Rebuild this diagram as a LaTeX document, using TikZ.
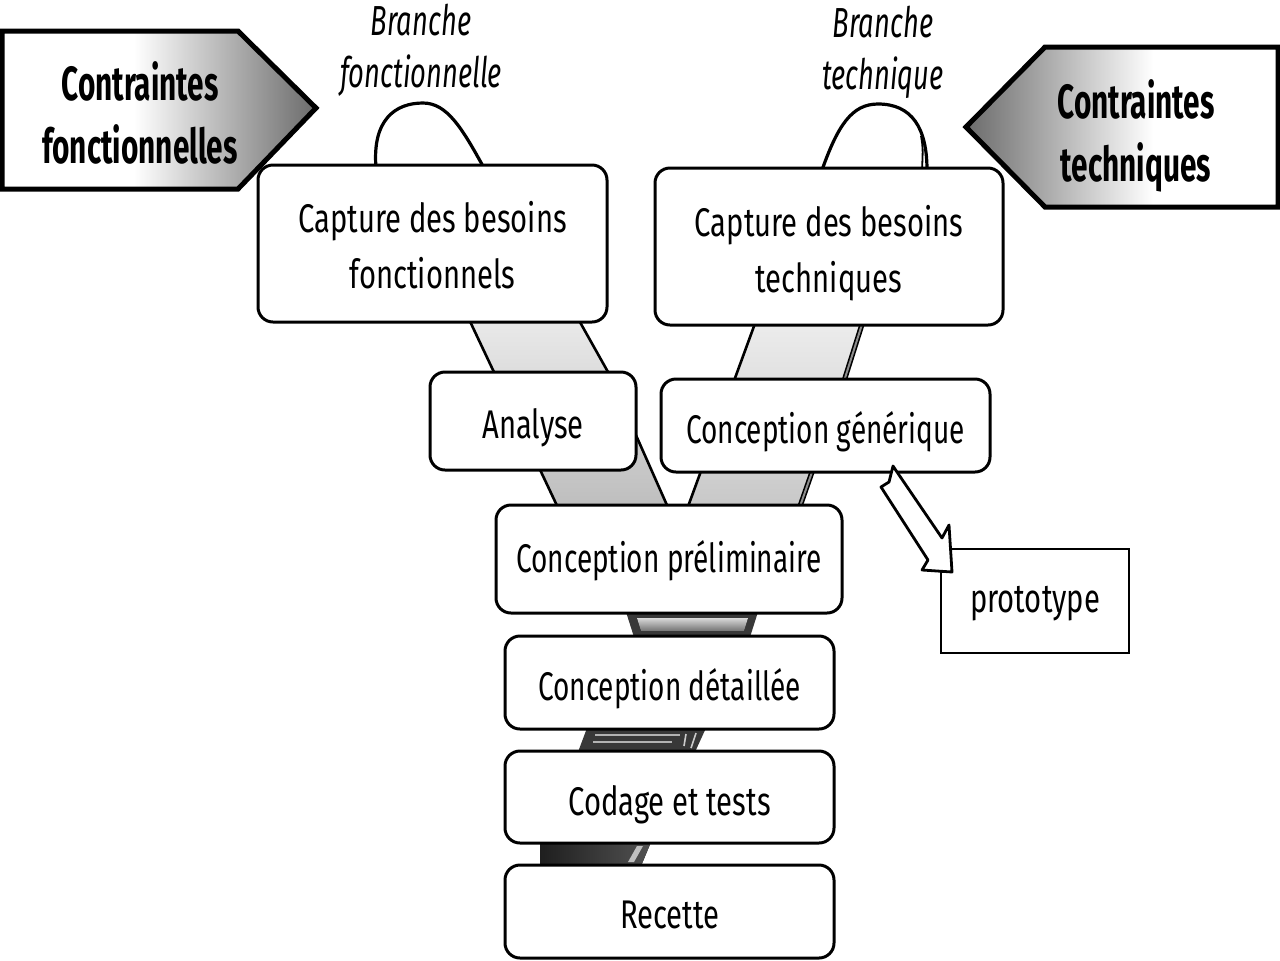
\documentclass[tikz,border=0pt]{standalone}
\usepackage{fontspec}
\setmainfont{Fira Sans}
\usepackage{graphicx}
\usetikzlibrary{calc}
\newcommand{\hsq}[2]{\scalebox{#1}[1]{\begin{tabular}{@{}c@{}}#2\end{tabular}}}
\newcommand{\hsl}[3]{\raisebox{#2}[\height][\depth]{\hsq{#1}{#3}}}
\pgfdeclarehorizontalshading{contrL}{100bp}{color(0bp)=(white); color(25bp)=(white); color(46bp)=(white); color(75bp)=(black!58); color(100bp)=(black!58)}
\pgfdeclarehorizontalshading{contrR}{100bp}{color(0bp)=(black!58); color(25bp)=(black!58); color(55bp)=(white); color(75bp)=(white); color(100bp)=(white)}
\begin{document}
\begin{tikzpicture}[x=0.5pt, y=-0.5pt,
  rbox/.style={draw, line width=1.5pt, rounded corners=7.5pt, fill=white, inner sep=0pt, font=\fontsize{20}{28}\selectfont},
  pbox/.style={draw, line width=1.2pt, fill=white, inner sep=0pt, font=\fontsize{20}{28}\selectfont},
  btext/.style={inner sep=0pt, font=\fontsize{20}{28}\selectfont},
  ctext/.style={inner sep=0pt, font=\fontsize{24}{31.5}\selectfont\bfseries},
  blabel/.style={inner sep=0pt, font=\fontsize{21}{26}\selectfont\itshape},
  arch/.style={draw, line width=1.6pt, fill=white},
  contr/.style={draw, line width=2.5pt, line join=miter},
  hollow/.style={draw, line width=1.4pt, fill=white, line join=round},
  bandL/.style={draw, line width=1.3pt, top color=black!8, bottom color=black!26},
  bandR/.style={draw, line width=1.3pt, top color=black!7, bottom color=black!22}]
\useasboundingbox (0,0) rectangle (1280,960);

% bands of the Y
\path[bandL] (467,315) -- (576,315) -- (608,372) -- (670,512) -- (560,512) -- cycle;
\path[bandR] (757,318) -- (864,318) -- (845,378) -- (798,512) -- (686,512) -- cycle;
\draw[line width=0.8pt, double=black!45, double distance=1pt] (864,318) -- (845,378) -- (798,512);

% trunk bands
\fill[black!78] (626,612) -- (758,612) -- (750,637) -- (634,637) -- cycle;
\fill[top color=black!15, bottom color=black!55] (637,618) -- (748,618) -- (744,631) -- (641,631) -- cycle;
\fill[black!78] (587,728) -- (706,728) -- (695,752) -- (578,752) -- cycle;
\draw[black!30, line width=1pt] (595,735) -- (680,735) (593,742) -- (672,742);
\draw[black!20, line width=0.8pt] (686,734) -- (684,746) (696,733) -- (691,748);
\fill[left color=black!88, right color=black!68] (540,842) -- (651,842) -- (641,866) -- (540,866) -- cycle;
\fill[black!25] (637,846) -- (643,846) -- (634,862) -- (628,862) -- cycle;

% arches
\draw[arch] (376,168) .. controls (372,120) and (395,103) .. (423,103) .. controls (447,103) and (462,128) .. (484,168);
\draw[arch] (822,170) .. controls (838,125) and (852,104) .. (878,104) .. controls (912,104) and (927,128) .. (927,170);
\draw[line width=0.9pt] (921,136) .. controls (923,148) .. (922,170);

% boxes
\node[rbox, minimum width=174.5pt, minimum height=78.5pt] (capF) at (432.5,243.5) {};
\node[btext] (capFt) at (432.5,249) {\hsq{0.73}{Capture des besoins\\fonctionnels}};
\node[rbox, minimum width=174pt, minimum height=78.5pt] (capT) at (829,246.5) {};
\node[btext] (capTt) at (829,253) {\hsq{0.73}{Capture des besoins\\techniques}};
\node[rbox, minimum width=103pt, minimum height=49pt] (ana) at (533,421) {\hsl{0.73}{-3pt}{Analyse}};
\node[rbox, minimum width=164.5pt, minimum height=46.5pt] (gen) at (825.5,425.5) {\hsl{0.7}{-3.5pt}{Conception générique}};
\node[rbox, minimum width=173pt, minimum height=54pt] (pre) at (669,559) {\hsl{0.7}{-1pt}{Conception préliminaire}};
\node[rbox, minimum width=164.5pt, minimum height=46.5pt] (det) at (669.5,682.5) {\hsl{0.7}{-3.5pt}{Conception détaillée}};
\node[rbox, minimum width=164.5pt, minimum height=46pt] (cod) at (669.5,797) {\hsl{0.73}{-3.5pt}{Codage et tests}};
\node[rbox, minimum width=164.5pt, minimum height=46.5pt] (rec) at (669.5,911.5) {\hsl{0.73}{-3pt}{Recette}};
\node[pbox, minimum width=94pt, minimum height=52pt] (proto) at (1035,601) {\hsq{0.73}{prototype}};

% constraint arrows
\path[contr, shade, shading=contrL] (2,31) -- (238,31) -- (316,108) -- (238,189) -- (2,189) -- cycle;
\path[contr, shade, shading=contrR] (1278,47) -- (1045,47) -- (966,127) -- (1045,207) -- (1278,207) -- cycle;
\node[ctext] (cf) at (140,119) {\hsq{0.62}{Contraintes\\fonctionnelles}};
\node[ctext] (ct) at (1136,137) {\hsq{0.62}{Contraintes\\techniques}};

% branch labels
\node[blabel] (bf) at (421,51) {\hsq{0.65}{Branche\\fonctionnelle}};
\node[blabel] (bt) at (883,53) {\hsq{0.65}{Branche\\technique}};

% prototype arrow
\path[hollow] (881,487) -- (889,482) -- (893,466) -- (897,472) -- (942,538) -- (949,525) -- (952,572) -- (922,570) -- (928,560) -- cycle;
\end{tikzpicture}
\end{document}
